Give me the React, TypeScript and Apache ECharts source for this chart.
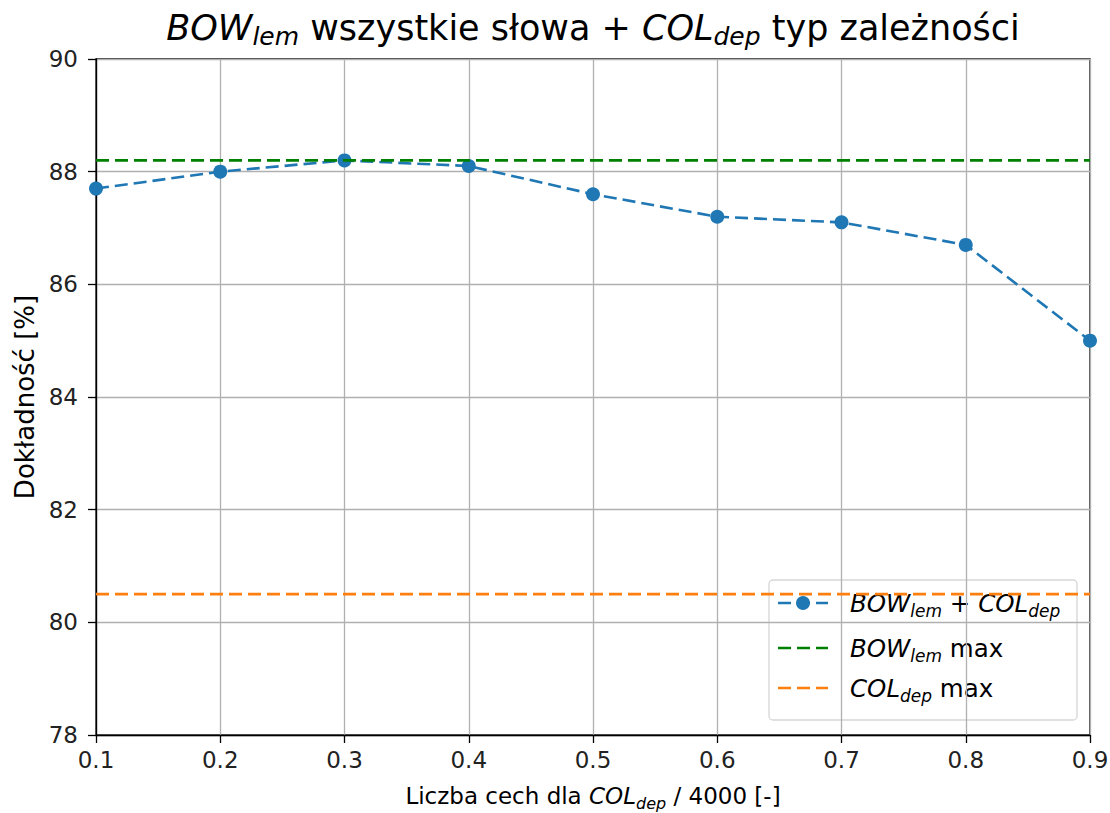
import React, { useEffect, useRef } from "react";
import * as echarts from "echarts";

const xValues = [0.1, 0.2, 0.3, 0.4, 0.5, 0.6, 0.7, 0.8, 0.9];
const accuracy = [87.7, 88.0, 88.2, 88.1, 87.6, 87.2, 87.1, 86.7, 85.0];
const bowMax = 88.2;
const colMax = 80.5;
const yTicks = [78, 80, 82, 84, 86, 88, 90];

const BLUE = "#1f77b4";
const GREEN = "#008000";
const ORANGE = "#ff7f0e";
const FONT = "DejaVu Sans";

export default function App() {
  const ref = useRef<HTMLDivElement>(null);
  useEffect(() => {
    if (!ref.current) return;
    const chart = echarts.init(ref.current, undefined, { renderer: "svg" });
    const gridLeft = 96, gridRight = 20, gridTop = 59, gridBottom = 78;
    const W = 1110;
    const plotCenter = (gridLeft + (W - gridRight)) / 2;

    const subRich = (size: number, lh: number) => ({
      it: { fontFamily: FONT, fontSize: size, fontStyle: "italic", lineHeight: lh, fill: "#000", color: "#000" },
      sub: { fontFamily: FONT, fontSize: Math.round(size * 0.7), fontStyle: "italic", lineHeight: Math.round(size * 0.7), verticalAlign: "bottom", fill: "#000", color: "#000" },
      n: { fontFamily: FONT, fontSize: size, lineHeight: lh, fill: "#000", color: "#000" },
    });

    const legX = 769, legY = 580, legW = 308, legH = 140;
    const rows = [603, 648, 688];
    const lx1 = 778, lx2 = 828, tx = 850;
    const dash = [13, 6];

    const option: any = {
      animation: false,
      backgroundColor: "#fff",
      grid: {
        left: gridLeft, right: gridRight, top: gridTop, bottom: gridBottom,
        outerBoundsMode: "none", containLabel: false,
        show: true, borderColor: "#000", borderWidth: 1.3, backgroundColor: "transparent",
      },
      xAxis: {
        type: "value", min: 0.1, max: 0.9, interval: 0.1,
        name: "{n|Liczba cech dla }{it|COL}{sub|dep}{n| / 4000 [-]}",
        nameLocation: "middle", nameGap: 46,
        nameTextStyle: { rich: subRich(23, 30) },
        axisLine: { show: true, lineStyle: { color: "#000", width: 1.3 } },
        axisTick: { show: true, length: 8, lineStyle: { color: "#000", width: 1.3 } },
        axisLabel: { margin: 13, fontFamily: FONT, fontSize: 23, color: "#222", formatter: (v: number) => v.toFixed(1) },
        splitLine: { show: true, lineStyle: { color: "#b0b0b0", width: 1.3 } },
      },
      yAxis: {
        type: "value", min: yTicks[0], max: yTicks[yTicks.length - 1], interval: 2,
        name: "Dokładność [%]", nameLocation: "middle", nameGap: 58, nameRotate: 90,
        nameTextStyle: { fontFamily: FONT, fontSize: 26, color: "#000" },
        axisLine: { show: true, lineStyle: { color: "#000", width: 1.3 } },
        axisTick: { show: true, length: 8, lineStyle: { color: "#000", width: 1.3 } },
        axisLabel: { margin: 18, fontFamily: FONT, fontSize: 23, color: "#222" },
        splitLine: { show: true, lineStyle: { color: "#b0b0b0", width: 1.3 } },
      },
      series: [
        {
          type: "line", name: "acc",
          data: xValues.map((x, i) => [x, accuracy[i]]),
          symbol: "circle", symbolSize: 14, showSymbol: true, clip: true,
          lineStyle: { color: BLUE, width: 2.6, type: dash },
          itemStyle: { color: BLUE, borderWidth: 0 },
          z: 3,
        },
        {
          type: "line", name: "bow",
          data: [[xValues[0], bowMax], [xValues[xValues.length - 1], bowMax]],
          symbol: "none", lineStyle: { color: GREEN, width: 2.6, type: dash }, z: 4,
        },
        {
          type: "line", name: "col",
          data: [[xValues[0], colMax], [xValues[xValues.length - 1], colMax]],
          symbol: "none", lineStyle: { color: ORANGE, width: 2.6, type: dash }, z: 4,
        },
      ],
      graphic: [
        {
          type: "text", x: plotCenter, y: 28, z: 10,
          style: {
            text: "{it|BOW}{sub|lem}{n| wszystkie słowa + }{it|COL}{sub|dep}{n| typ zależności}",
            rich: subRich(35, 42), align: "center", verticalAlign: "middle",
          },
        },
        {
          type: "group", z: 20,
          children: [
            {
              type: "rect", shape: { x: legX, y: legY, width: legW, height: legH, r: 4 },
              style: { fill: "rgba(255,255,255,0.8)", stroke: "#d6d6d6", lineWidth: 1.3 },
            },
            { type: "line", shape: { x1: lx1, y1: rows[0], x2: lx2, y2: rows[0] }, style: { stroke: BLUE, lineWidth: 2.6, lineDash: dash } },
            { type: "circle", shape: { cx: (lx1 + lx2) / 2, cy: rows[0], r: 7 }, style: { fill: BLUE } },
            { type: "line", shape: { x1: lx1, y1: rows[1], x2: lx2, y2: rows[1] }, style: { stroke: GREEN, lineWidth: 2.6, lineDash: dash } },
            { type: "line", shape: { x1: lx1, y1: rows[2], x2: lx2, y2: rows[2] }, style: { stroke: ORANGE, lineWidth: 2.6, lineDash: dash } },
            { type: "text", x: tx, y: rows[0], style: { text: "{it|BOW}{sub|lem}{it| + COL}{sub|dep}", rich: subRich(24.5, 32), verticalAlign: "middle" } },
            { type: "text", x: tx, y: rows[1], style: { text: "{it|BOW}{sub|lem}{n| max}", rich: subRich(24.5, 32), verticalAlign: "middle" } },
            { type: "text", x: tx, y: rows[2], style: { text: "{it|COL}{sub|dep}{n| max}", rich: subRich(24.5, 32), verticalAlign: "middle" } },
          ],
        },
      ],
    };
    chart.setOption(option);
    return () => chart.dispose();
  }, []);
  return <div ref={ref} style={{ position: "absolute", left: 0, top: 0, width: 1110, height: 813 }} />;
}
